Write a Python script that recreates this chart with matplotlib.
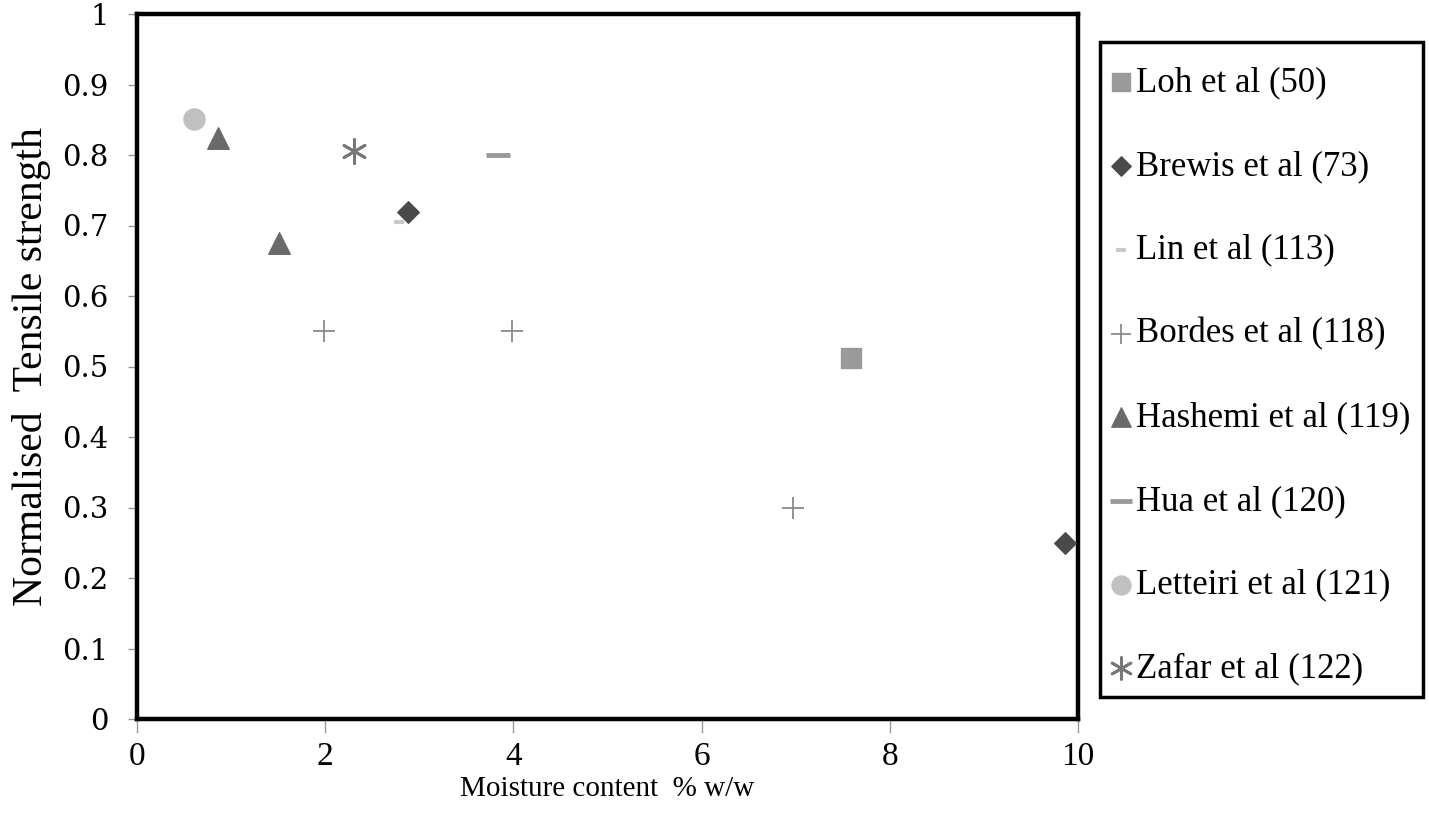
import matplotlib.pyplot as plt
from matplotlib.patches import Rectangle

# Normalised tensile strength vs moisture content
loh_x = [7.59]
loh_y = [0.512]
brewis_x = [2.88, 9.86]
brewis_y = [0.719, 0.25]
lin_x = [2.78]
lin_y = [0.705]
bordes_x = [1.99, 3.99, 6.97]
bordes_y = [0.55, 0.55, 0.30]
hashemi_x = [0.86, 1.51]
hashemi_y = [0.824, 0.675]
hua_x = [3.84]
hua_y = [0.80]
letteiri_x = [0.61]
letteiri_y = [0.851]
zafar_x = [2.31]
zafar_y = [0.806]

x_ticks = [0, 2, 4, 6, 8, 10]
y_ticks = [0, 0.1, 0.2, 0.3, 0.4, 0.5, 0.6, 0.7, 0.8, 0.9, 1]
y_tick_labels = ['0', '0.1', '0.2', '0.3', '0.4', '0.5', '0.6', '0.7', '0.8', '0.9', '1']

plt.rcParams['font.family'] = ['Liberation Serif', 'DejaVu Serif']

fig = plt.figure(figsize=(14.29, 8.23), dpi=100)
ax = fig.add_axes([137 / 1429, 1 - 719 / 823, (1078 - 137) / 1429, (719 - 14) / 823])

ax.scatter(loh_x, loh_y, marker='s', s=190, color='#9a9a9a', label='Loh et al (50)', zorder=3)
ax.scatter(brewis_x, brewis_y, marker='D', s=120, color='#4a4a4a', label='Brewis et al (73)', zorder=3)
ax.scatter(lin_x, lin_y, marker='_', s=60, color='#c8c8c8', linewidths=3, label='Lin et al (113)', zorder=3)
ax.scatter(bordes_x, bordes_y, marker='+', s=260, color='#8a8a8a', linewidths=1.3, label='Bordes et al (118)', zorder=3)
ax.scatter(hashemi_x, hashemi_y, marker='^', s=240, color='#6a6a6a', label='Hashemi et al (119)', zorder=3)
ax.scatter(hua_x, hua_y, marker='_', s=300, color='#9a9a9a', linewidths=3.5, label='Hua et al (120)', zorder=3)
ax.scatter(letteiri_x, letteiri_y, marker='o', s=230, color='#c0c0c0', label='Letteiri et al (121)', zorder=3)
ax.scatter(zafar_x, zafar_y, marker=(6, 2, 0), s=300, color='#777777', linewidths=2, label='Zafar et al (122)', zorder=3)

ax.set_xlim(0, 10)
ax.set_ylim(0, 1)
ax.set_xticks(x_ticks)
ax.set_xticklabels([str(t) for t in x_ticks])
ax.set_yticks(y_ticks)
ax.set_yticklabels(y_tick_labels)

for spine in ax.spines.values():
    spine.set_linewidth(3.2)
    spine.set_color('black')

ax.tick_params(axis='both', direction='out', color='#999999', width=1)
ax.tick_params(axis='x', length=10, pad=6, labelsize=24)
ax.tick_params(axis='y', length=6.5, pad=14, labelsize=21)
for lbl in ax.get_yticklabels():
    lbl.set_fontfamily('DejaVu Serif')

ax.set_xlabel('Moisture content  % w/w', fontsize=21, labelpad=3)
ax.set_ylabel('Normalised  Tensile strength', fontsize=30, labelpad=8)

# legend frame drawn separately so the entries can sit where they do in the reference
fig.patches.append(Rectangle((1100 / 1429, 1 - 697 / 823), 323 / 1429, 655 / 823,
                             transform=fig.transFigure, fill=False,
                             edgecolor='black', linewidth=2.5))
leg = fig.legend(loc='upper left', bbox_to_anchor=(1100 / 1429, 1 - 56 / 823),
                 fontsize=25, labelspacing=1.46, handletextpad=0.15, handlelength=0.6,
                 borderpad=0.3, borderaxespad=0, frameon=False, markerscale=0.9)

fig.savefig('out.png', dpi=100)
